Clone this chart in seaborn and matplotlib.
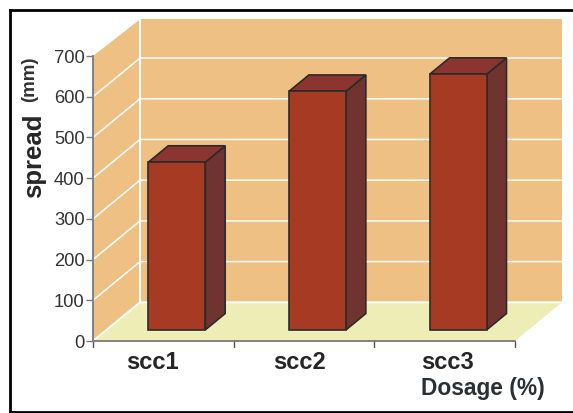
import matplotlib
matplotlib.use("Agg")
import matplotlib.pyplot as plt
import pandas as pd
import seaborn as sns
from matplotlib.lines import Line2D
from matplotlib.patches import Polygon
from matplotlib.transforms import Affine2D

sns.set_theme(style="white")
plt.rcParams["font.family"] = ["Liberation Sans", "DejaVu Sans"]

mixes = ["scc1", "scc2", "scc3"]
spread_mm = [412, 586, 628]
y_ticks = [0, 100, 200, 300, 400, 500, 600, 700]

WALL = "#EFC083"
FLOOR = "#EEEDB5"
FRONT = "#A63A22"
TOP = "#8C3430"
SIDE = "#70332F"
EDGE = "#2B2B2B"
AXIS = "#7A7A7A"
TEXT = "#333333"

W, H = 573, 413
fig = plt.figure(figsize=(W / 100, H / 100), dpi=100, facecolor="white")
ax = fig.add_axes([93 / W, (H - 341) / H, (515 - 93) / W, (341 - 56) / H])
ax.patch.set_alpha(0)

# Oblique projection: full depth of the box in data units.
DX, DY = 0.334, 95
BAR_WIDTH = 0.405
NEAR, FAR = 0.29, 0.71
XMIN, XMAX, YMAX = -0.5, 2.5, 700
WALL_TOP = YMAX + DY - 5


def poly(points, **kw):
    ax.add_patch(Polygon(points, closed=True, clip_on=False, **kw))


# Side wall, back wall and floor of the box.
poly([(XMIN, 0), (XMIN + DX, DY), (XMIN + DX, WALL_TOP), (XMIN, YMAX)],
     facecolor=WALL, edgecolor="none", zorder=0)
poly([(XMIN + DX, DY), (XMAX + DX, DY), (XMAX + DX, WALL_TOP), (XMIN + DX, WALL_TOP)],
     facecolor=WALL, edgecolor="none", zorder=0)
poly([(XMIN, 0), (XMAX, 0), (XMAX + DX, DY), (XMIN + DX, DY)],
     facecolor=FLOOR, edgecolor="none", zorder=0.5)

# Gridlines fold from the side wall onto the back wall.
for t in y_ticks[:-1]:
    ax.plot([XMIN, XMIN + DX, XMAX + DX], [t, t + DY, t + DY], color="white",
            lw=1.4 if t == 0 else 1.1, clip_on=False, zorder=1,
            solid_joinstyle="miter")
ax.plot([XMIN + DX, XMIN + DX], [DY, WALL_TOP], color="white", lw=1.4,
        clip_on=False, zorder=1)

frame = pd.DataFrame({"mix": mixes, "spread": spread_mm})
sns.barplot(data=frame, x="mix", y="spread", ax=ax, color=FRONT, saturation=1,
            width=BAR_WIDTH, edgecolor=EDGE, linewidth=1.2, zorder=3)

# Shift the front faces to their depth in the box, then add side and top faces.
shift = Affine2D().translate(NEAR * DX, NEAR * DY) + ax.transData
for bar in ax.patches[-len(mixes):]:
    bar.set_transform(shift)
    bar.set_clip_on(False)

for i, v in enumerate(spread_mm):
    x0 = i - BAR_WIDTH / 2 + NEAR * DX
    x1 = i + BAR_WIDTH / 2 + NEAR * DX
    y0 = NEAR * DY
    y1 = v + NEAR * DY
    ddx = (FAR - NEAR) * DX
    ddy = (FAR - NEAR) * DY
    poly([(x1, y0), (x1 + ddx, y0 + ddy), (x1 + ddx, y1 + ddy), (x1, y1)],
         facecolor=SIDE, edgecolor=EDGE, linewidth=1.2, zorder=2.5, joinstyle="miter")
    poly([(x0, y1), (x1, y1), (x1 + ddx, y1 + ddy), (x0 + ddx, y1 + ddy)],
         facecolor=TOP, edgecolor=EDGE, linewidth=1.2, zorder=2.5, joinstyle="miter")

ax.set_xlim(XMIN, XMAX)
ax.set_ylim(0, YMAX)
ax.set_yticks(y_ticks)
# Category labels sit a little left of the first slot centre and drift right.
ax.set_xticks([-0.081, 0.968, 2.02], mixes)
ax.set_xlabel("")
ax.set_ylabel("")

sns.despine(ax=ax, top=True, right=True)
for side in ("left", "bottom"):
    ax.spines[side].set_color(AXIS)
    ax.spines[side].set_linewidth(1.3)
    ax.spines[side].set_zorder(2)

ax.tick_params(axis="y", length=5, width=1, color=AXIS, labelsize=13.2,
               labelcolor=TEXT, pad=1, left=True)
ax.tick_params(axis="x", length=0, labelsize=17, labelcolor="#262626", pad=7)
for label in ax.get_xticklabels():
    label.set_fontweight("bold")

# Category separators along the bottom axis.
for edge in [XMIN, 0.5, 1.5, XMAX]:
    ax.plot([edge, edge], [0, -14], color="#555555", lw=1, clip_on=False, zorder=2)


def px_text(x, y, s, **kw):
    fig.text(x / W, (H - y) / H, s, **kw)


px_text(34, 198, "spread", rotation=90, fontsize=18.5, fontweight="bold",
        color="#262626", ha="center", va="bottom")
px_text(30, 102, "(mm)", rotation=90, fontsize=13.5, fontweight="bold",
        color=TEXT, ha="center", va="bottom")
px_text(421, 395, "Dosage (%)", fontsize=16.4, fontweight="bold",
        color="#2B3035", ha="left", va="baseline")


# Open black border: left, top and bottom rules only.
def rule(x0, y0, x1, y1):
    fig.add_artist(Line2D([x0 / W, x1 / W], [(H - y0) / H, (H - y1) / H],
                          color="black", linewidth=2, solid_capstyle="projecting",
                          transform=fig.transFigure))


rule(9.5, 10, 573, 10)
rule(9.5, 10, 9.5, 412)
rule(9.5, 412, 573, 412)

fig.savefig("out.png", dpi=100, facecolor="white")
